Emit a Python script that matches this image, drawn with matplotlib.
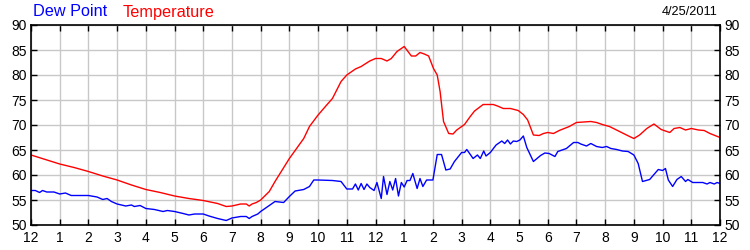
import matplotlib
matplotlib.use("Agg")
import matplotlib.pyplot as plt

plt.rcParams['font.family'] = ['Liberation Sans', 'DejaVu Sans']

# hours after midnight, 4/25/2011
temp_t = [0, 0.5, 1, 1.5, 2, 2.5, 3, 3.5, 4, 4.5, 5, 5.5, 6, 6.5, 6.8, 7, 7.3, 7.5, 7.6, 7.7, 7.85, 8,
          8.3, 8.5, 9, 9.3, 9.5, 9.7, 10, 10.3, 10.5, 10.8, 11, 11.3, 11.5, 11.8, 12, 12.2, 12.4, 12.55,
          12.75, 13, 13.25, 13.4, 13.55, 13.7, 13.85, 14.02, 14.15, 14.25, 14.37, 14.55, 14.7, 14.83,
          15.1, 15.3, 15.45, 15.75, 16.1, 16.25, 16.45, 16.7, 16.97, 17.15, 17.3, 17.5, 17.7, 17.85,
          18, 18.2, 18.4, 18.75, 19, 19.25, 19.5, 19.7, 19.9, 20.15, 20.5, 20.85, 21, 21.2, 21.45,
          21.7, 21.95, 22.25, 22.4, 22.6, 22.8, 23, 23.25, 23.45, 23.65, 24]
temp_v = [64.0, 63.1, 62.2, 61.5, 60.7, 59.8, 59.0, 58.0, 57.1, 56.5, 55.8, 55.3, 54.9, 54.3, 53.7,
          53.8, 54.2, 54.2, 53.8, 54.2, 54.5, 55.0, 56.7, 58.7, 63.3, 65.7, 67.3, 69.7, 72.0, 74.0,
          75.3, 78.7, 80.0, 81.2, 81.7, 82.8, 83.3, 83.3, 82.8, 83.3, 84.7, 85.7, 83.8, 83.8, 84.5,
          84.2, 83.8, 81.3, 80.0, 76.7, 70.7, 68.3, 68.2, 69.0, 70.1, 71.7, 72.8, 74.1, 74.1, 73.8,
          73.3, 73.3, 72.9, 72.1, 71.0, 68.0, 67.9, 68.3, 68.5, 68.3, 68.9, 69.7, 70.5, 70.6, 70.7,
          70.5, 70.1, 69.7, 68.7, 67.7, 67.3, 68.0, 69.3, 70.2, 69.1, 68.5, 69.3, 69.5, 69.0, 69.3,
          69.0, 68.9, 68.3, 67.5]

dew_t = [0, 0.15, 0.3, 0.4, 0.55, 0.8, 1, 1.2, 1.4, 1.5, 2, 2.3, 2.5, 2.65, 2.8, 3, 3.3, 3.5, 3.6,
         3.8, 4, 4.3, 4.6, 4.75, 5, 5.3, 5.5, 5.7, 6, 6.2, 6.5, 6.8, 7, 7.3, 7.5, 7.6, 7.7, 7.9, 8,
         8.5, 8.8, 9, 9.2, 9.5, 9.7, 9.85, 10, 10.5, 10.8, 11, 11.2, 11.3, 11.4, 11.5, 11.6, 11.7,
         11.8, 11.85, 11.95, 12.05, 12.2, 12.28, 12.4, 12.5, 12.6, 12.7, 12.8, 12.9, 13.0, 13.1,
         13.2, 13.3, 13.45, 13.55, 13.65, 13.78, 13.88, 14.0, 14.15, 14.3, 14.45, 14.6, 14.75, 15.0,
         15.1, 15.18, 15.3, 15.4, 15.55, 15.65, 15.77, 15.85, 16.0, 16.2, 16.4, 16.5, 16.6, 16.7,
         16.8, 16.92, 17.03, 17.15, 17.27, 17.5, 17.75, 17.9, 18.05, 18.25, 18.35, 18.65, 18.9,
         19.05, 19.15, 19.35, 19.5, 19.7, 19.9, 20.05, 20.2, 20.4, 20.6, 20.8, 21, 21.15, 21.3,
         21.55, 21.85, 22.0, 22.1, 22.2, 22.35, 22.5, 22.65, 22.8, 22.88, 23.05, 23.4, 23.55, 23.65,
         23.8, 23.9, 24]
dew_v = [56.9, 56.9, 56.5, 56.9, 56.6, 56.6, 56.2, 56.4, 55.9, 55.9, 55.9, 55.6, 55.1, 55.3, 54.7,
         54.2, 53.8, 54.0, 53.7, 53.9, 53.3, 53.1, 52.7, 52.9, 52.7, 52.3, 52.0, 52.2, 52.2, 51.8,
         51.3, 50.9, 51.4, 51.7, 51.7, 51.3, 51.7, 52.2, 52.7, 54.7, 54.5, 55.7, 56.8, 57.1, 57.7,
         59.0, 59.0, 58.9, 58.7, 57.2, 57.2, 58.2, 57.0, 58.3, 57.1, 58.2, 57.5, 57.3, 56.9, 58.5,
         55.3, 59.7, 56.1, 58.7, 57.0, 59.3, 55.8, 58.5, 57.6, 58.9, 58.9, 60.3, 57.3, 59.3, 57.7,
         59.0, 59.0, 59.0, 64.1, 64.1, 61.0, 61.2, 62.7, 64.5, 64.5, 65.1, 64.1, 63.3, 64.0, 63.3,
         64.8, 63.8, 64.5, 66.0, 66.8, 66.3, 67.0, 66.2, 66.8, 66.7, 67.0, 67.8, 65.5, 62.7, 63.9,
         64.4, 64.3, 63.7, 64.7, 65.3, 66.5, 66.5, 66.2, 65.8, 66.3, 65.7, 65.5, 65.7, 65.3, 65.1,
         64.8, 64.7, 64.0, 62.3, 58.7, 59.1, 61.1, 60.9, 61.3, 59.0, 57.7, 59.1, 59.7, 58.7, 59.1,
         58.5, 58.5, 58.2, 58.5, 58.2, 58.5, 58.3]

hour_labels = ['12'] + [str(h) for h in range(1, 12)] + ['12'] + [str(h) for h in range(1, 12)] + ['12']

fig = plt.figure(figsize=(7.5, 2.5), dpi=100)
ax = fig.add_axes([31 / 750, 25 / 250, 689 / 750, 200 / 250])

ax.plot(temp_t, temp_v, color='#ff0000', lw=1)
ax.plot(dew_t, dew_v, color='#0000ff', lw=1)

ax.set_xlim(0, 24)
ax.set_ylim(50, 90)
ax.set_xticks(range(25))
ax.set_xticklabels(hour_labels)
ax.set_yticks(range(50, 91, 5))
ax.grid(True, color='#c8c8c8', lw=1)
ax.set_axisbelow(True)
ax.tick_params(direction='in', length=4, width=1, top=True, right=True,
               labelright=True, labelsize=10, pad=3)
ax.tick_params(axis='x', pad=4)
for s in ax.spines.values():
    s.set_linewidth(1.2)

fig.text(33 / 750, 1 - 12 / 250, 'Dew Point', color='#0000ff', fontsize=11.7, va='center')
fig.text(123 / 750, 1 - 12 / 250, 'Temperature', color='#ff0000', fontsize=11.7, va='center')
fig.text(718 / 750, 1 - 12 / 250, '4/25/2011', color='black', fontsize=9.2, va='center', ha='right')

fig.savefig('out.png', dpi=100)
